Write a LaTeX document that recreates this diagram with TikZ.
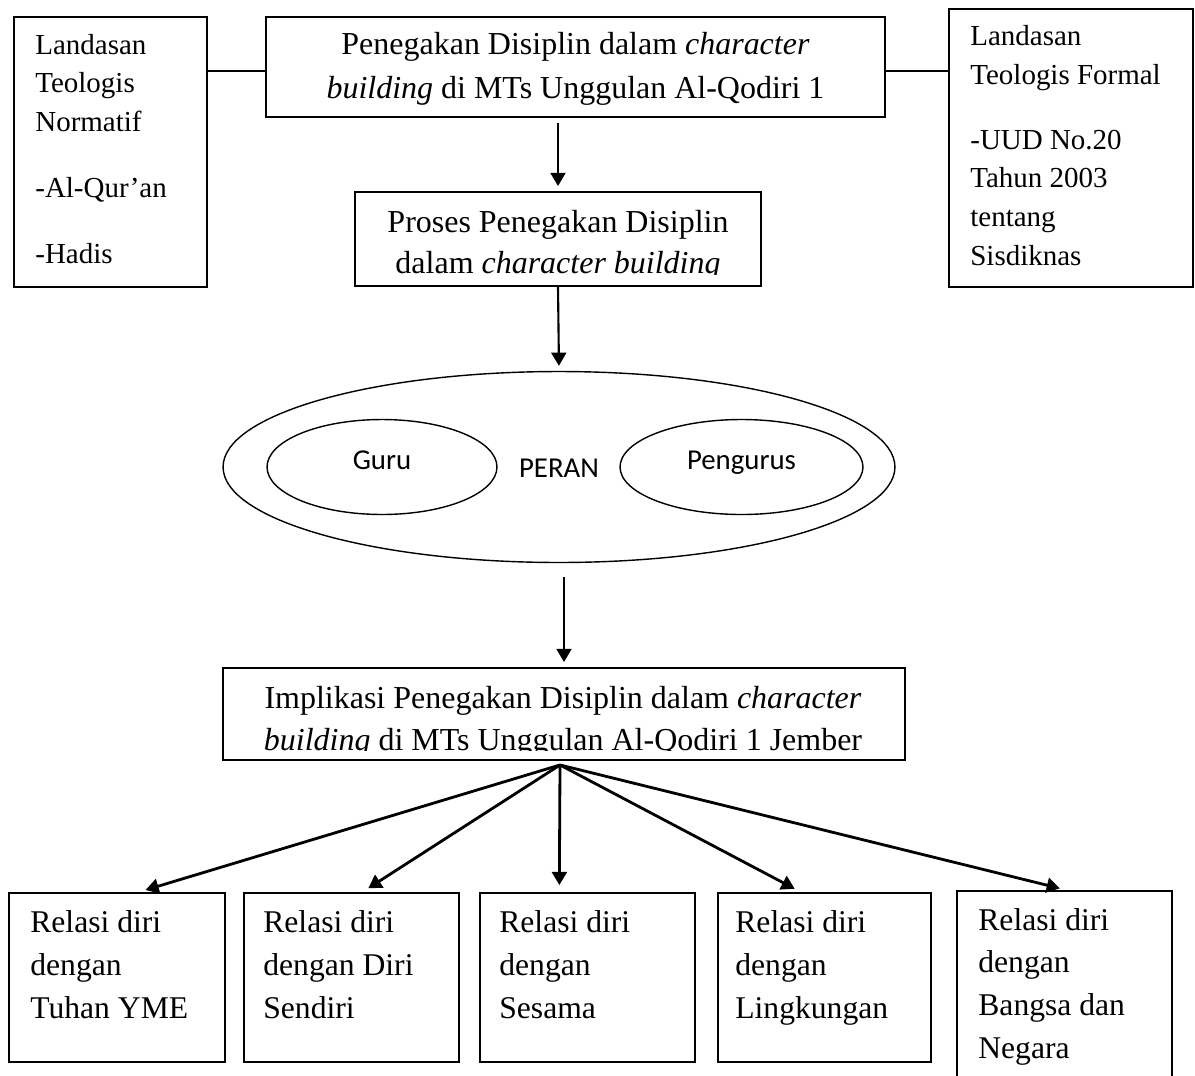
\documentclass[tikz,border=0pt]{standalone}
\usepackage{fontspec}
\setmainfont{Liberation Serif}
\setsansfont{Carlito}
\usetikzlibrary{arrows.meta,shapes.geometric,fit,calc}

\begin{document}
\begin{tikzpicture}[x=0.02cm,y=-0.02cm,
    >={Triangle[length=7.5pt,width=8.5pt]},
    box/.style={draw,line width=1.1pt,inner sep=0pt,fit={#1}},
    oval/.style={draw,ellipse,line width=0.8pt,inner sep=0pt},
    main text/.style={font=\fontsize{18.2}{24.5}\selectfont,align=center,inner sep=0pt,anchor=base},
    side text/.style={font=\fontsize{16.5}{22}\selectfont,align=left,inner sep=0pt,anchor=base west},
    relasi text/.style={font=\fontsize{18}{24.2}\selectfont,align=left,inner sep=0pt,anchor=base west},
    peran text/.style={font=\sffamily\fontsize{16.4}{20}\selectfont,inner sep=0pt,anchor=base},
    flow/.style={->,line width=1.2pt,shorten >=0.1cm},
    fan/.style={->,line width=1.6pt,shorten >=0.14cm}]

    \useasboundingbox (0,0) rectangle (1195,1075);
    \clip (0,0) rectangle (1195,1075);

    % Define boxes
    \node[box={(14,17) (207,287)}] (normatif) {};
    \node[box={(266,17) (885,117)}] (penegakan) {};
    \node[box={(949,9) (1193,287)}] (formal) {};
    \node[box={(355,192) (761,286)}] (proses) {};
    \node[oval,minimum width=13.44cm,minimum height=3.82cm] (peran) at (559,467) {};
    \node[oval,minimum width=4.6cm,minimum height=1.9cm] (guru) at (382,467) {};
    \node[oval,minimum width=4.86cm,minimum height=1.9cm] (pengurus) at (741.5,467) {};
    \node[box={(223,668) (905,760)}] (impl) {};
    \node[box={(9,893) (225,1062)}] (rel1) {};
    \node[box={(244,893) (459,1062)}] (rel2) {};
    \node[box={(480,893) (695,1062)}] (rel3) {};
    \node[box={(718,893) (931,1062)}] (rel4) {};
    \node[box={(957,891) (1172,1100)}] (rel5) {};

    % Texts (anchored at the baseline of their last line)
    \node[side text] (normatiftext) at (35,263)
        {Landasan\\Teologis\\Normatif\\[15.4pt]-Al-Qur’an\\[15.4pt]-Hadis};
    \node[main text] (penegakantext) at (575.5,98)
        {Penegakan Disiplin dalam \textit{character}\\\textit{building} di MTs Unggulan Al-Qodiri 1};
    \node[side text] (formaltext) at (970,265)
        {Landasan\\Teologis Formal\\[14.8pt]-UUD No.20\\Tahun 2003\\tentang\\Sisdiknas};
    \begin{scope}
        \clip (proses.north west) rectangle ([yshift=0.24cm]proses.south east);
        \node[main text,font=\fontsize{18.2}{22.8}\selectfont] (prosestext) at (558,273)
            {Proses Penegakan Disiplin\\dalam \textit{character building}};
    \end{scope}
    \node[peran text] (gurutext) at (382,469) {Guru};
    \node[peran text] (perantext) at (559,477) {PERAN};
    \node[peran text] (penguruste) at (741.5,469) {Pengurus};
    \begin{scope}
        \clip (impl.north west) rectangle ([yshift=0.2cm]impl.south east);
        \node[main text,font=\fontsize{18.2}{23.9}\selectfont] (impltext) at (563,750)
            {Implikasi Penegakan Disiplin dalam \textit{character}\\\textit{building} di MTs Unggulan Al-Qodiri 1 Jember};
    \end{scope}
    \node[relasi text] (rel1text) at (30,1018) {Relasi diri\\dengan\\Tuhan YME};
    \node[relasi text] (rel2text) at (263,1018) {Relasi diri\\dengan Diri\\Sendiri};
    \node[relasi text] (rel3text) at (499,1018) {Relasi diri\\dengan\\Sesama};
    \node[relasi text] (rel4text) at (735,1018) {Relasi diri\\dengan\\Lingkungan};
    \node[relasi text] (rel5text) at (978,1058) {Relasi diri\\dengan\\Bangsa dan\\Negara};

    % Draw edges
    \coordinate (linkl) at ([yshift=-0.08cm]penegakan.west);
    \coordinate (linkr) at ([yshift=-0.08cm]penegakan.east);
    \draw[line width=1.1pt] (linkl -| normatif.east) -- (linkl);
    \draw[line width=1.1pt] (linkr) -- (linkr -| formal.west);

    \draw[flow,shorten <=0.1cm] (proses.north |- penegakan.south) -- (proses.north);
    \draw[flow] (proses.south) -- (peran.north);
    \draw[flow,shorten <=0.28cm] (impl.north |- peran.south) -- (impl.north);

    \coordinate (fanroot) at ([xshift=-0.08cm,yshift=-0.08cm]impl.south);
    \foreach \b/\f in {rel1/0.60,rel2/0.55,rel3/0.37,rel4/0.39,rel5/0.51}
        \draw[fan] (fanroot) -- ($(\b.north west)!\f!(\b.north east)$);

\end{tikzpicture}
\end{document}
